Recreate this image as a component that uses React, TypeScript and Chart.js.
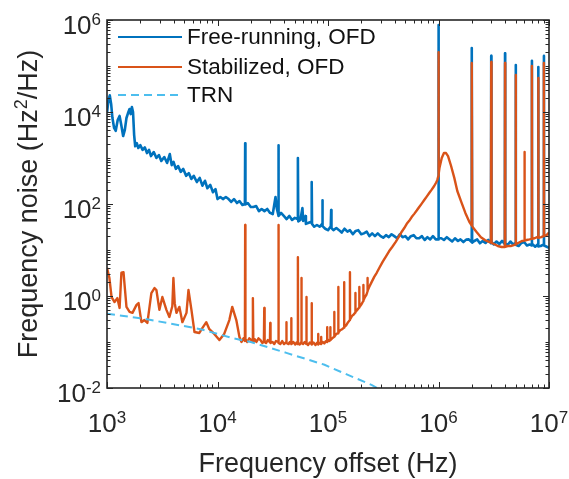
import { useEffect, useRef } from 'react';
import { Chart, registerables } from 'chart.js';

Chart.register(...registerables);

const FONT = '"Liberation Sans", Arial, Helvetica, sans-serif';
const INK = '#262626';

// ---- data (frequency in Hz, frequency noise in Hz^2/Hz) ----
const freeRunning: [number, number][] = [
  [1000, 9500], [1030, 18000], [1060, 23000], [1090, 15000], [1120, 7400], [1160, 4500], [1200, 3900], [1250, 6700], [1300, 8200], [1350, 5000],
  [1400, 3000], [1450, 4100], [1500, 7400], [1550, 9500], [1600, 11600], [1640, 9000], [1680, 12800], [1720, 10000], [1760, 3200], [1800, 1800],
  [1860, 2100], [1920, 1650], [2000, 1900], [2100, 1500], [2200, 1700], [2300, 1280], [2400, 1500], [2500, 1100], [2650, 1350], [2800, 1000],
  [2950, 1160], [3100, 860], [3300, 1050], [3500, 780], [3700, 1220], [3850, 700], [4000, 820], [4200, 580], [4400, 670], [4650, 500],
  [4900, 580], [5200, 410], [5500, 470], [5800, 350], [6100, 410], [6500, 300], [6900, 370], [7300, 250], [7700, 320], [8100, 220],
  [8600, 260], [9100, 180], [9600, 210],
  [10000, 128], [10600, 142], [11200, 128], [11900, 142], [12600, 128], [13300, 111], [14100, 128], [15000, 105], [15800, 116], [16800, 95],
  [17700, 100], [17800, 2100], [17900, 98], [18800, 105], [20000, 86], [21100, 86], [22400, 90], [23700, 70], [25100, 78], [26600, 70],
  [28200, 78], [29900, 64], [31600, 60], [32600, 95], [33500, 142], [34400, 80], [35400, 60], [35600, 1900], [35800, 55], [37600, 64],
  [39800, 55], [42200, 47], [44700, 55], [47300, 45], [50100, 50], [53000, 47], [53400, 1000], [53800, 42], [56200, 45], [58700, 82],
  [59600, 43], [62500, 55], [63100, 37], [66800, 39], [70700, 41], [71200, 300], [71700, 37], [75000, 32], [79400, 35], [84100, 32],
  [88500, 37], [89000, 120], [89500, 33], [94400, 29], [100000, 27], [106000, 33], [106800, 74], [107500, 30], [112000, 27], [119000, 30],
  [126000, 27], [133000, 24], [141000, 29], [150000, 25], [158000, 27], [168000, 22], [178000, 26], [188000, 27], [200000, 22], [211000, 23],
  [224000, 25], [237000, 20], [251000, 23], [266000, 20], [282000, 23], [299000, 20], [316000, 18.5], [335000, 21], [355000, 19], [376000, 22],
  [398000, 20], [422000, 18], [447000, 22], [473000, 19], [501000, 20], [531000, 17], [562000, 20], [596000, 21], [631000, 18], [668000, 18],
  [708000, 20], [750000, 16.5], [794000, 19], [841000, 17], [891000, 20], [944000, 17], [995000, 17], [1000000, 780000], [1005000, 18], [1060000, 18],
  [1120000, 16.5], [1190000, 19], [1260000, 17], [1330000, 15.3], [1410000, 18], [1500000, 15.7], [1580000, 17], [1680000, 14.9], [1780000, 16.8], [1880000, 17],
  [1985000, 15], [2000000, 245000], [2015000, 14.5], [2110000, 15.7], [2240000, 17], [2370000, 14], [2510000, 15.7], [2660000, 14.2], [2820000, 16.5], [2985000, 14],
  [3000000, 166000], [3015000, 15], [3160000, 13.2], [3350000, 15.3], [3550000, 13.5], [3760000, 15.7], [3985000, 13.5], [4000000, 190000], [4015000, 14], [4220000, 12.8],
  [4470000, 15.3], [4730000, 13.2], [4985000, 14.2], [5000000, 105000], [5015000, 13], [5310000, 12.2], [5620000, 14.2], [5960000, 14.9], [6310000, 12.5], [6680000, 13.2],
  [6985000, 12.5], [7000000, 130000], [7015000, 13.8], [7500000, 11.8], [7985000, 13.5], [8000000, 95000], [8015000, 12], [8410000, 12.2], [8985000, 13.2], [9000000, 166000],
  [9015000, 12.5], [9440000, 11.9], [10000000, 11.1],
];

const stabilized: [number, number][] = [
  [1000, 4.1], [1050, 2.5], [1100, 0.95], [1170, 0.74], [1240, 0.9], [1300, 0.55], [1350, 3.2], [1410, 3.3], [1500, 0.58], [1600, 0.45],
  [1700, 0.43], [1850, 0.64], [1930, 0.7], [2050, 0.27], [2180, 0.3], [2320, 0.26], [2520, 1.16], [2690, 1.49], [2800, 1.35], [2980, 0.5],
  [3170, 0.95], [3450, 0.5], [3670, 0.35], [3900, 0.6], [3990, 2.46], [4100, 0.7], [4250, 0.43], [4520, 0.58], [4810, 0.27], [5240, 0.43],
  [5460, 1.35], [5810, 0.5], [6190, 0.165], [6850, 0.157], [7290, 0.2], [7920, 0.27], [8440, 0.19], [9350, 0.15], [10400, 0.11], [11500, 0.15],
  [12800, 0.3], [13600, 0.58], [14800, 0.3], [15800, 0.128], [16500, 0.1], [17200, 0.12], [17700, 0.105], [17800, 35], [17900, 0.115], [18600, 0.1],
  [19400, 0.12], [20700, 0.105], [20900, 0.9], [21100, 0.1], [21800, 0.115], [22500, 0.1], [23500, 0.12], [24500, 0.11], [25500, 0.095], [26300, 0.105],
  [26500, 0.55], [26700, 0.1], [27500, 0.095], [28500, 0.11], [29800, 0.1], [30000, 0.26], [30200, 0.095], [31500, 0.1], [32600, 0.09], [33800, 0.105],
  [35400, 0.1], [35600, 35], [35800, 0.095], [37000, 0.09], [38500, 0.105], [40000, 0.09], [41800, 0.1], [42000, 0.27], [42200, 0.095], [44000, 0.09],
  [45200, 0.1], [46300, 0.095], [46500, 0.33], [46700, 0.09], [48500, 0.1], [50500, 0.088], [52000, 0.098], [53200, 0.09], [53400, 7.0], [53600, 0.095],
  [55500, 0.088], [57300, 0.1], [57500, 2.46], [57700, 0.095], [59500, 0.09], [61500, 0.1], [63600, 0.09], [63800, 0.95], [64000, 0.095], [66000, 0.086],
  [68500, 0.098], [71000, 0.09], [71200, 0.7], [71400, 0.088], [74000, 0.097], [77000, 0.086], [79500, 0.096], [81300, 0.09], [81500, 0.15], [81700, 0.088],
  [84000, 0.095], [86500, 0.09], [86700, 0.128], [86900, 0.092], [89500, 0.1], [92500, 0.093], [95500, 0.104], [98100, 0.1], [98300, 0.21], [98500, 0.102],
  [101000, 0.11], [103000, 0.105], [104800, 0.11], [105000, 0.21], [105200, 0.11], [109000, 0.12], [113800, 0.13], [114000, 0.45], [114200, 0.13], [119000, 0.15],
  [123800, 0.155], [124000, 1.57], [124200, 0.16], [129000, 0.18], [134000, 0.19], [139700, 0.205], [140000, 2.0], [140300, 0.21], [146000, 0.23], [152000, 0.27],
  [157700, 0.3], [158000, 3.3], [158300, 0.31], [165000, 0.37], [170000, 0.39], [176700, 0.44], [177000, 1.16], [177300, 0.45], [184000, 0.5], [191700, 0.56],
  [192000, 1.57], [192300, 0.57], [200000, 0.65], [208700, 0.78], [209000, 1.73], [209300, 0.8], [216000, 0.95], [222000, 1.05], [227700, 1.25], [228000, 2.46],
  [228300, 1.3], [236000, 1.57], [248000, 2.0], [262000, 2.6], [276000, 3.2], [291000, 4.06], [313000, 5.6], [336000, 7.4], [358000, 9.5], [381000, 11.6],
  [410000, 15], [441000, 20], [465000, 25], [490000, 30], [516000, 37], [543000, 43], [572000, 52], [603000, 61], [635000, 72], [669000, 86],
  [705000, 102], [743000, 122], [782000, 145], [824000, 173], [868000, 205], [914000, 246], [950000, 290], [975000, 330], [995000, 400], [1000000, 200000],
  [1005000, 440], [1020000, 606], [1070000, 1000], [1120000, 1280], [1170000, 1280], [1220000, 1100], [1300000, 670], [1390000, 370], [1480000, 192], [1610000, 110],
  [1750000, 64], [1900000, 41], [1980000, 35], [2000000, 116000], [2020000, 33], [2070000, 30], [2230000, 24], [2420000, 19], [2630000, 16.5], [2860000, 15],
  [2980000, 14.5], [3000000, 122000], [3020000, 14.3], [3180000, 13.5], [3440000, 12.2], [3730000, 11.6], [3980000, 11.6], [4000000, 116000], [4020000, 11.7], [4230000, 12.2],
  [4500000, 12.2], [4800000, 12.8], [4980000, 13.2], [5000000, 64000], [5020000, 13.4], [5250000, 14.2], [5690000, 15.7], [5970000, 16], [6000000, 1350], [6030000, 16],
  [6270000, 16.5], [6680000, 17], [6970000, 17.5], [7000000, 100000], [7030000, 17.5], [7400000, 18], [7800000, 19], [7970000, 18.5], [8000000, 55000], [8030000, 18.5],
  [8500000, 19], [8900000, 20], [8970000, 20], [9000000, 116000], [9030000, 20], [9500000, 21], [10000000, 24],
];

const trn: [number, number][] = [
  [1000, 0.41], [2000, 0.33], [3500, 0.26], [7000, 0.19], [14000, 0.12], [20000, 0.1],
  [42000, 0.058], [93000, 0.032], [146000, 0.02], [250000, 0.0116], [320000, 0.0083],
];

const seriesLabels = ['Free-running, OFD', 'Stabilized, OFD', 'TRN'];
const seriesColors = ['#0072BD', '#D95319', '#4DBEEE'];

const xTickValues = [1e3, 1e4, 1e5, 1e6, 1e7];
const xTickLabels: [string, string][] = [['10', '3'], ['10', '4'], ['10', '5'], ['10', '6'], ['10', '7']];
const yTickValues = [1e-2, 1e0, 1e2, 1e4, 1e6];
const yTickLabels: [string, string][] = [['10', '-2'], ['10', '0'], ['10', '2'], ['10', '4'], ['10', '6']];

const xTitle = 'Frequency offset (Hz)';
const yTitleParts = ['Frequency noise (Hz', '2', '/Hz)'];

function drawSup(ctx: CanvasRenderingContext2D, base: string, exp: string, x: number, y: number,
  align: 'center' | 'right', big: number, small: number, raise: number) {
  ctx.font = `${big}px ${FONT}`;
  const wb = ctx.measureText(base).width;
  ctx.font = `${small}px ${FONT}`;
  const we = ctx.measureText(exp).width;
  const total = wb + we;
  const x0 = align === 'center' ? x - total / 2 : x - total;
  ctx.textAlign = 'left';
  ctx.textBaseline = 'alphabetic';
  ctx.font = `${big}px ${FONT}`;
  ctx.fillText(base, x0, y);
  ctx.font = `${small}px ${FONT}`;
  ctx.fillText(exp, x0 + wb, y - raise);
}

const decorPlugin = {
  id: 'matlabDecor',
  afterDraw(chart: any) {
    const { ctx, chartArea: a } = chart;
    const xs = chart.scales.x;
    const ys = chart.scales.y;
    ctx.save();
    ctx.strokeStyle = INK;
    ctx.fillStyle = INK;

    // ticks (inward, mirrored on all four sides)
    ctx.lineWidth = 1;
    const tick = (px: number, len: number, vertical: boolean) => {
      ctx.beginPath();
      if (vertical) {
        ctx.moveTo(px, a.bottom); ctx.lineTo(px, a.bottom - len);
        ctx.moveTo(px, a.top); ctx.lineTo(px, a.top + len);
      } else {
        ctx.moveTo(a.left, px); ctx.lineTo(a.left + len, px);
        ctx.moveTo(a.right, px); ctx.lineTo(a.right - len, px);
      }
      ctx.stroke();
    };
    for (let d = 3; d < 7; d++) {
      for (let m = 2; m < 10; m++) tick(Math.round(xs.getPixelForValue(m * Math.pow(10, d))) + 0.5, 3.5, true);
    }
    xTickValues.forEach((v) => tick(Math.round(xs.getPixelForValue(v)) + 0.5, 6, true));
    for (let d = -2; d < 6; d++) {
      for (let m = 1; m < 10; m++) {
        if (m === 1 && d % 2 === 0) continue;
        tick(Math.round(ys.getPixelForValue(m * Math.pow(10, d))) + 0.5, 3.5, false);
      }
    }
    yTickValues.forEach((v) => tick(Math.round(ys.getPixelForValue(v)) + 0.5, 6, false));

    // box
    ctx.lineWidth = 1.6;
    ctx.strokeRect(a.left, a.top, a.right - a.left, a.bottom - a.top);

    // tick labels
    xTickValues.forEach((v, i) => {
      const px = xs.getPixelForValue(v);
      drawSup(ctx, xTickLabels[i][0], xTickLabels[i][1], px, a.bottom + 44, 'center', 26, 17, 9);
    });
    yTickValues.forEach((v, i) => {
      const py = ys.getPixelForValue(v);
      drawSup(ctx, yTickLabels[i][0], yTickLabels[i][1], a.left - 6, py + 13.5, 'right', 26, 17, 9);
    });

    // axis titles
    ctx.font = `27px ${FONT}`;
    ctx.textAlign = 'center';
    ctx.textBaseline = 'alphabetic';
    ctx.fillText(xTitle, (a.left + a.right) / 2, 472);

    ctx.save();
    ctx.translate(37, (a.top + a.bottom) / 2);
    ctx.rotate(-Math.PI / 2);
    ctx.font = `27px ${FONT}`;
    const w0 = ctx.measureText(yTitleParts[0]).width;
    const w2 = ctx.measureText(yTitleParts[2]).width;
    ctx.font = `18px ${FONT}`;
    const w1 = ctx.measureText(yTitleParts[1]).width;
    let x0 = -(w0 + w1 + w2) / 2;
    ctx.textAlign = 'left';
    ctx.font = `27px ${FONT}`;
    ctx.fillText(yTitleParts[0], x0, 0);
    x0 += w0;
    ctx.font = `18px ${FONT}`;
    ctx.fillText(yTitleParts[1], x0, -10);
    x0 += w1;
    ctx.font = `27px ${FONT}`;
    ctx.fillText(yTitleParts[2], x0, 0);
    ctx.restore();

    // legend
    const rows = [37, 67, 95];
    chart.data.datasets.forEach((ds: any, i: number) => {
      const yy = rows[i];
      ctx.save();
      ctx.strokeStyle = ds.borderColor;
      ctx.lineWidth = 2;
      ctx.setLineDash(ds.borderDash || []);
      ctx.beginPath();
      ctx.moveTo(118, yy);
      ctx.lineTo(182, yy);
      ctx.stroke();
      ctx.restore();
      ctx.font = `22.5px ${FONT}`;
      ctx.textAlign = 'left';
      ctx.textBaseline = 'middle';
      ctx.fillStyle = '#111';
      ctx.fillText(ds.label, 187, yy + 1);
    });
    ctx.restore();
  },
};

export default function App() {
  const ref = useRef<HTMLCanvasElement>(null);
  useEffect(() => {
    const toPts = (arr: [number, number][]) => arr.map(([x, y]) => ({ x, y }));
    const chart = new Chart(ref.current as HTMLCanvasElement, {
      type: 'line',
      data: {
        datasets: [
          { label: seriesLabels[0], data: toPts(freeRunning), borderColor: seriesColors[0], borderWidth: 2.6, borderJoinStyle: 'round', order: 3 },
          { label: seriesLabels[1], data: toPts(stabilized), borderColor: seriesColors[1], borderWidth: 2.4, borderJoinStyle: 'round', order: 2 },
          { label: seriesLabels[2], data: toPts(trn), borderColor: seriesColors[2], borderWidth: 2, borderDash: [8, 5], order: 1 },
        ],
      } as any,
      options: {
        animation: false,
        responsive: false,
        devicePixelRatio: 1,
        layout: { padding: { left: 107, right: 20, top: 20, bottom: 91 } },
        elements: { point: { radius: 0 }, line: { tension: 0 } },
        scales: {
          x: { type: 'logarithmic', min: 1e3, max: 1e7, display: false },
          y: { type: 'logarithmic', min: 1e-2, max: 1e6, display: false },
        },
        plugins: { legend: { display: false }, tooltip: { enabled: false } },
      } as any,
      plugins: [decorPlugin],
    });
    return () => chart.destroy();
  }, []);
  return (
    <div style={{ position: 'absolute', left: 0, top: 0, width: 569, height: 479, background: '#fff' }}>
      <canvas ref={ref} width={569} height={479} style={{ display: 'block' }} />
    </div>
  );
}
